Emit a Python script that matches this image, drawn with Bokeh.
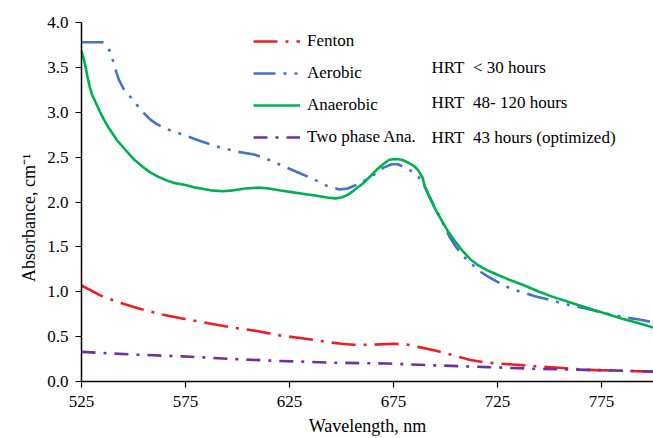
from bokeh.plotting import figure
from bokeh.models import Range1d, Legend, LegendItem, Label, FixedTicker, NumeralTickFormatter
from bokeh.embed import file_html
from bokeh.resources import INLINE

# ---- data ----
wl_fenton = [525, 530, 534, 543, 553, 563, 574, 586, 598, 610, 621, 632, 643, 650, 656, 665, 675, 682, 688, 696, 704, 712, 720, 732, 744, 756, 768, 784, 800]
abs_fenton = [1.07, 1.01, 0.96, 0.88, 0.81, 0.75, 0.70, 0.65, 0.60, 0.56, 0.51, 0.48, 0.44, 0.42, 0.41, 0.41, 0.42, 0.41, 0.38, 0.34, 0.29, 0.24, 0.21, 0.19, 0.17, 0.15, 0.13, 0.12, 0.11]

wl_aerobic = [525, 535, 537, 539, 541, 543, 545, 547, 549, 552, 555, 558, 561, 565, 570, 575, 582, 590, 600, 608, 613, 619, 625, 630, 637, 643, 649, 653, 657, 662, 666, 670, 674, 677, 680, 684, 687, 690, 693, 696, 699, 702, 705, 708, 712, 717, 721, 725, 730, 736, 743, 750, 758, 768, 777, 785, 793, 800]
abs_aerobic = [3.78, 3.78, 3.74, 3.67, 3.50, 3.36, 3.27, 3.21, 3.16, 3.07, 2.99, 2.92, 2.87, 2.82, 2.78, 2.74, 2.68, 2.62, 2.56, 2.53, 2.49, 2.43, 2.37, 2.32, 2.25, 2.18, 2.14, 2.15, 2.19, 2.25, 2.31, 2.38, 2.42, 2.42, 2.39, 2.34, 2.28, 2.17, 2.03, 1.89, 1.75, 1.61, 1.50, 1.41, 1.32, 1.22, 1.16, 1.11, 1.05, 1.00, 0.95, 0.91, 0.86, 0.81, 0.76, 0.72, 0.69, 0.66]

wl_anaerobic = [525, 526, 527, 528, 529, 530, 532, 534, 536, 538, 540, 542, 545, 550, 554, 558, 562, 566, 570, 575, 580, 587, 593, 598, 604, 610, 615, 620, 626, 632, 638, 643, 647, 650, 653, 656, 660, 664, 667, 670, 673, 676, 679, 682, 685, 687, 689, 690, 692, 694, 696, 698, 701, 705, 708, 712, 716, 720, 725, 731, 738, 745, 752, 760, 771, 785, 793, 800]
abs_anaerobic = [3.68, 3.60, 3.50, 3.38, 3.28, 3.20, 3.10, 3.00, 2.91, 2.83, 2.76, 2.69, 2.61, 2.48, 2.40, 2.33, 2.28, 2.24, 2.21, 2.19, 2.16, 2.13, 2.12, 2.13, 2.15, 2.16, 2.15, 2.13, 2.11, 2.09, 2.07, 2.05, 2.04, 2.05, 2.08, 2.13, 2.20, 2.29, 2.36, 2.42, 2.47, 2.48, 2.47, 2.44, 2.40, 2.35, 2.27, 2.18, 2.07, 1.97, 1.88, 1.80, 1.68, 1.55, 1.46, 1.36, 1.29, 1.24, 1.19, 1.13, 1.07, 1.00, 0.94, 0.88, 0.80, 0.70, 0.65, 0.60]

wl_two = [525, 550, 574, 598, 619, 645, 672, 695, 720, 745, 768, 785, 800]
abs_two = [0.33, 0.30, 0.28, 0.25, 0.23, 0.21, 0.20, 0.18, 0.16, 0.14, 0.13, 0.12, 0.11]

series_names = ["Fenton", "Aerobic", "Anaerobic", "Two phase Ana."]
hrt_notes = ["HRT\u00a0\u00a0< 30 hours", "HRT\u00a0\u00a048- 120 hours", "HRT\u00a0\u00a043 hours (optimized)"]
x_ticks = [525, 575, 625, 675, 725, 775]
y_ticks = [0.0, 0.5, 1.0, 1.5, 2.0, 2.5, 3.0, 3.5, 4.0]
x_title = "Wavelength, nm"
y_title = "Absorbance, cm\u207b\u00b9"

FONT = "'Liberation Serif', 'Times New Roman', serif"

p = figure(width=653, height=438, output_backend="svg", toolbar_location=None,
           x_range=Range1d(525, 800), y_range=Range1d(0, 4.0),
           min_border_left=81, min_border_right=0, min_border_top=22, min_border_bottom=57)
p.outline_line_color = None
p.xgrid.visible = False
p.ygrid.visible = False
p.background_fill_color = "white"

for ax in (p.xaxis[0], p.yaxis[0]):
    ax.axis_line_color = "black"
    ax.axis_line_width = 1.5
    ax.major_tick_line_color = "black"
    ax.major_tick_line_width = 1.2
    ax.major_tick_out = 6
    ax.major_tick_in = 0
    ax.minor_tick_line_color = None
    ax.major_label_text_font = FONT
    ax.major_label_text_font_size = "17px"
    ax.major_label_text_color = "black"
    ax.axis_label_text_font = FONT
    ax.axis_label_text_font_size = "18px"
    ax.axis_label_text_font_style = "normal"
    ax.axis_label_text_color = "black"

p.xaxis.ticker = FixedTicker(ticks=x_ticks)
p.yaxis.ticker = FixedTicker(ticks=y_ticks)
p.yaxis.formatter = NumeralTickFormatter(format="0.0")
p.xaxis.axis_label = x_title
# trailing no-break spaces push the rotated title slightly below the frame centre, as in the original
p.yaxis.axis_label = y_title + "\u00a0" * 7
p.xaxis.major_label_standoff = 8
p.yaxis.major_label_standoff = 7
p.xaxis.axis_label_standoff = 6
p.yaxis.axis_label_standoff = 5

r1 = p.line(wl_fenton, abs_fenton, line_color="#EE1D23", line_width=2.6, line_dash="24 8 3 8")
r2 = p.line(wl_aerobic, abs_aerobic, line_color="#4472C4", line_width=2.6, line_dash="22 8 3 8 3 8")
r3 = p.line(wl_anaerobic, abs_anaerobic, line_color="#00B050", line_width=2.6)
r4 = p.line(wl_two, abs_two, line_color="#7030A0", line_width=2.6, line_dash="14 8 3 8")

legend = Legend(items=[LegendItem(label=n, renderers=[r]) for n, r in zip(series_names, [r1, r2, r3, r4])],
                location=(172, 234), padding=0, margin=0, spacing=12,
                glyph_width=47, glyph_height=20, label_height=20, label_standoff=7,
                label_text_font=FONT, label_text_font_size="17px", label_text_color="black",
                background_fill_alpha=0, border_line_color=None)
p.add_layout(legend, "center")

for note, yy in zip(hrt_notes, [314, 279, 244]):
    p.add_layout(Label(x=350, y=yy, x_units="screen", y_units="screen", text=note,
                       text_font=FONT, text_font_size="17px", text_color="black",
                       text_baseline="middle"))

open("out.html", "w").write(file_html(p, INLINE))
